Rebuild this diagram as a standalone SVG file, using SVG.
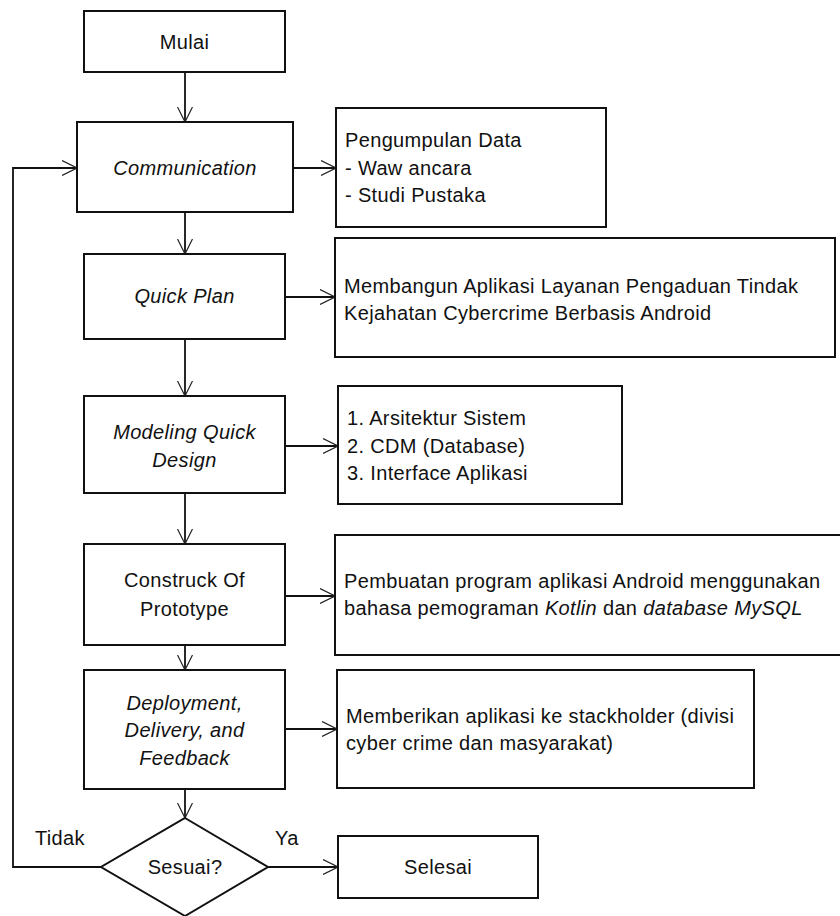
<svg xmlns="http://www.w3.org/2000/svg" width="840" height="916" viewBox="0 0 840 916">
<style>
  .box { fill: #fff; stroke: #111; stroke-width: 2; }
  .line { fill: none; stroke: #111; stroke-width: 1.8; }
  text { font-family: "Liberation Sans", Arial, sans-serif; font-size: 20px; fill: #111; letter-spacing: 0.35px; }
  .c { text-anchor: middle; }
  .i { font-style: italic; }
</style>
<defs>
  <marker id="arr" viewBox="0 0 16 16" refX="15" refY="8" markerWidth="16" markerHeight="16" markerUnits="userSpaceOnUse" orient="auto">
    <path d="M0,0.5 L15,8 L0,15.5" fill="none" stroke="#222" stroke-width="1.2"/>
  </marker>
</defs>
<rect width="840" height="916" fill="#fff"/>

<g id="connectors">
  <line class="line" x1="185" y1="72" x2="185" y2="122" marker-end="url(#arr)"/>
  <line class="line" x1="185" y1="212" x2="185" y2="254" marker-end="url(#arr)"/>
  <line class="line" x1="185" y1="339" x2="185" y2="396" marker-end="url(#arr)"/>
  <line class="line" x1="185" y1="493" x2="185" y2="544" marker-end="url(#arr)"/>
  <line class="line" x1="185" y1="645" x2="185" y2="670" marker-end="url(#arr)"/>
  <line class="line" x1="185" y1="789" x2="185" y2="818" marker-end="url(#arr)"/>
  <line class="line" x1="293" y1="168" x2="336" y2="168" marker-end="url(#arr)"/>
  <line class="line" x1="285" y1="297" x2="335" y2="297" marker-end="url(#arr)"/>
  <line class="line" x1="285" y1="446" x2="338" y2="446" marker-end="url(#arr)"/>
  <line class="line" x1="285" y1="596" x2="335" y2="596" marker-end="url(#arr)"/>
  <line class="line" x1="285" y1="729" x2="337" y2="729" marker-end="url(#arr)"/>
  <line class="line" x1="268" y1="867" x2="338" y2="867" marker-end="url(#arr)"/>
  <polyline class="line" points="101,867 13,867 13,168 77,168" marker-end="url(#arr)"/>
</g>

<g id="mulai">
  <rect class="box" x="84" y="11" width="201" height="61"/>
  <text class="c" x="184.5" y="49">Mulai</text>
</g>
<g id="communication">
  <rect class="box" x="77" y="122" width="216" height="90"/>
  <text class="c i" x="185" y="175">Communication</text>
</g>
<g id="pengumpulan">
  <rect class="box" x="336" y="108" width="270" height="119"/>
  <text x="345" y="147">Pengumpulan Data</text>
  <text x="345" y="175">- Waw ancara</text>
  <text x="345" y="202">- Studi Pustaka</text>
</g>
<g id="quickplan">
  <rect class="box" x="84" y="254" width="201" height="85"/>
  <text class="c i" x="184.5" y="303">Quick Plan</text>
</g>
<g id="membangun">
  <rect class="box" x="335" y="238" width="500" height="119"/>
  <text x="344" y="293">Membangun Aplikasi Layanan Pengaduan Tindak</text>
  <text x="344" y="320">Kejahatan Cybercrime Berbasis Android</text>
</g>
<g id="modeling">
  <rect class="box" x="84" y="396" width="201" height="97"/>
  <text class="c i" x="184.5" y="439">Modeling Quick</text>
  <text class="c i" x="184.5" y="467">Design</text>
</g>
<g id="arsitektur">
  <rect class="box" x="338" y="386" width="284" height="118"/>
  <text x="347" y="425">1. Arsitektur Sistem</text>
  <text x="347" y="453">2. CDM (Database)</text>
  <text x="347" y="480">3. Interface Aplikasi</text>
</g>
<g id="construck">
  <rect class="box" x="84" y="544" width="201" height="101"/>
  <text class="c" x="184.5" y="587">Construck Of</text>
  <text class="c" x="184.5" y="616">Prototype</text>
</g>
<g id="pembuatan">
  <rect class="box" x="335" y="535" width="510" height="120"/>
  <text x="344" y="588">Pembuatan program aplikasi  Android menggunakan</text>
  <text x="344" y="615">bahasa pemograman <tspan class="i">Kotlin</tspan> dan <tspan class="i">database MySQL</tspan></text>
</g>
<g id="deployment">
  <rect class="box" x="84" y="670" width="201" height="119"/>
  <text class="c i" x="184.5" y="710">Deployment,</text>
  <text class="c i" x="184.5" y="737">Delivery, and</text>
  <text class="c i" x="184.5" y="765">Feedback</text>
</g>
<g id="memberikan">
  <rect class="box" x="337" y="670" width="417" height="118"/>
  <text x="346" y="723">Memberikan aplikasi ke stackholder (divisi</text>
  <text x="346" y="750">cyber crime dan masyarakat)</text>
</g>
<g id="sesuai">
  <polygon class="box" points="185,818 268,867 185,916 101,867"/>
  <text class="c" x="185" y="874">Sesuai?</text>
</g>
<g id="selesai">
  <rect class="box" x="338" y="836" width="200" height="62"/>
  <text class="c" x="438" y="874">Selesai</text>
</g>
<g id="labels">
  <text x="35" y="845">Tidak</text>
  <text x="275" y="845">Ya</text>
</g>
</svg>
